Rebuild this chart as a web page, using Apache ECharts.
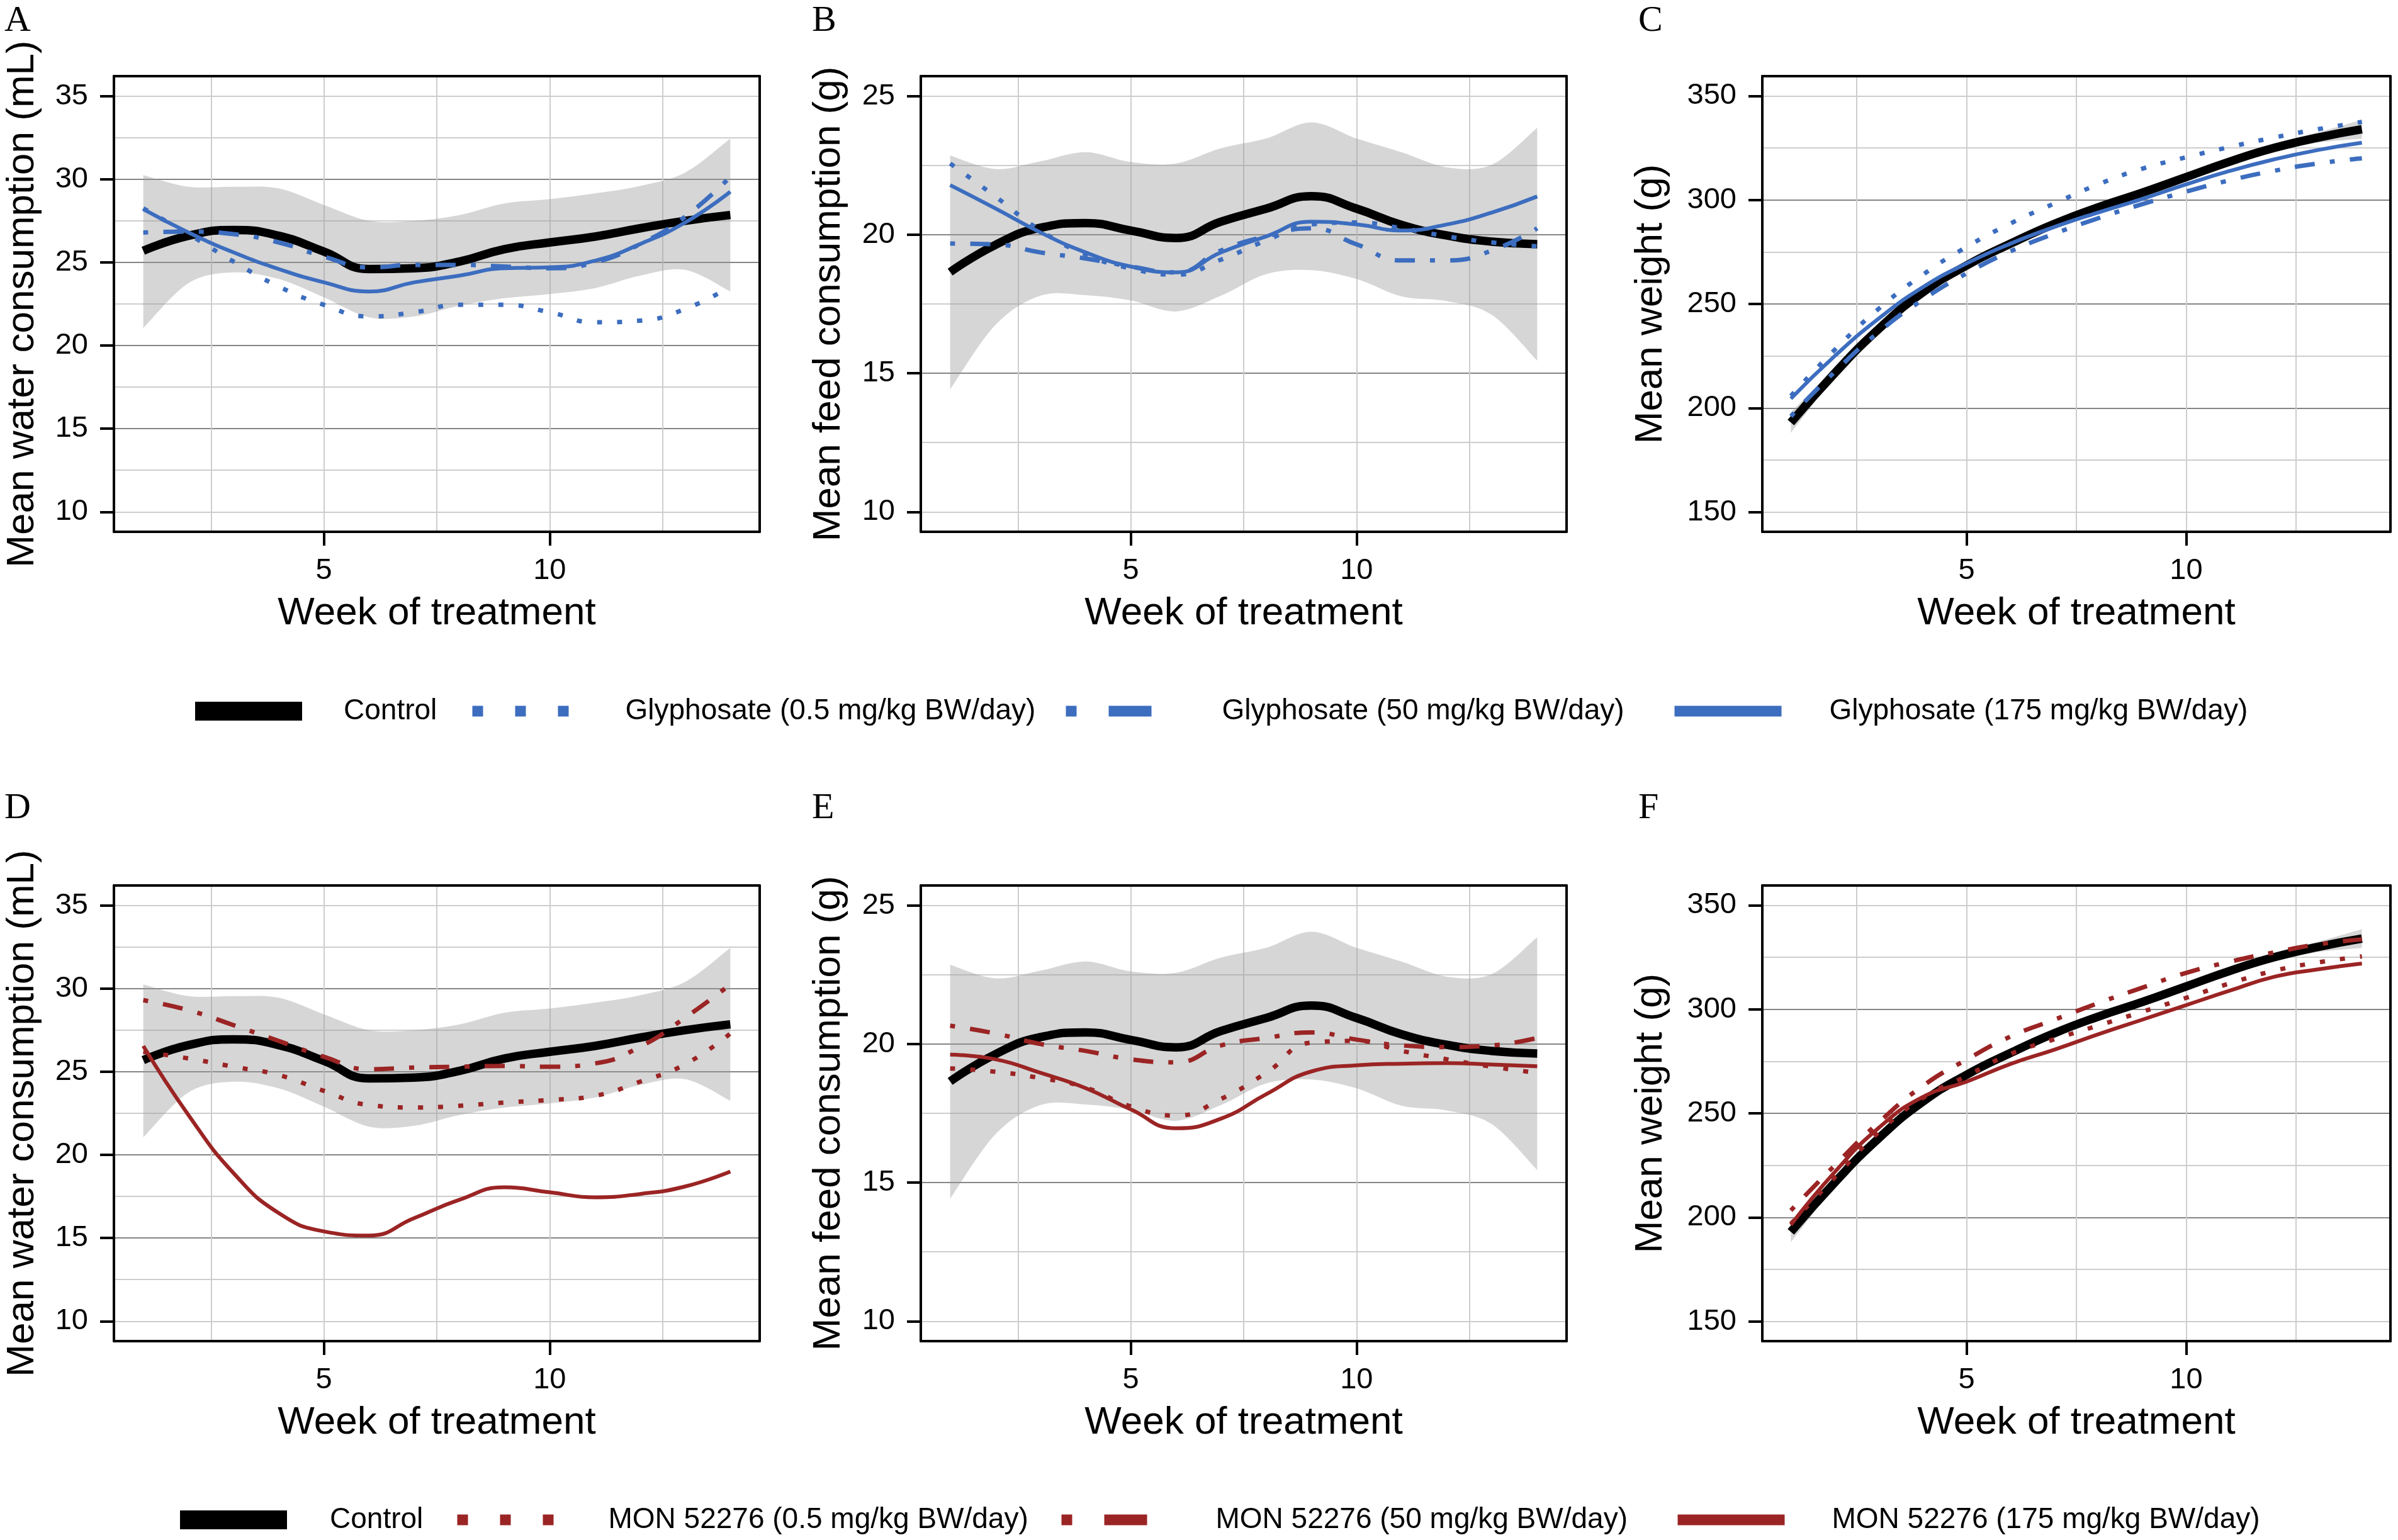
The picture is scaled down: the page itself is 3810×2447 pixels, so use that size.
<!DOCTYPE html>
<html>
<head>
<meta charset="utf-8">
<script src="https://cdn.jsdelivr.net/npm/echarts@6/dist/echarts.min.js"></script>
<style>
html,body{margin:0;padding:0;background:#fff;}
#chart{width:3810px;height:2447px;}
</style>
</head>
<body>
<div id="chart"></div>
<script>
// ---------------- DATA ----------------
const weeks = [1, 2, 3, 4, 5, 6, 7, 8, 9, 10, 11, 12, 13, 14];
const weekTicks = [5, 10];
const waterTicks = [10, 15, 20, 25, 30, 35];
const feedTicks = [10, 15, 20, 25];
const weightTicks = [150, 200, 250, 300, 350];

const controlName = 'Control';
const glyphosateNames = ['Glyphosate (0.5 mg/kg BW/day)', 'Glyphosate (50 mg/kg BW/day)', 'Glyphosate (175 mg/kg BW/day)'];
const monNames = ['MON 52276 (0.5 mg/kg BW/day)', 'MON 52276 (50 mg/kg BW/day)', 'MON 52276 (175 mg/kg BW/day)'];

// Water consumption (mL)
const waterControl = [25.7, 26.6, 26.95, 26.6, 25.65, 24.6, 24.65, 25.05, 25.8, 26.2, 26.55, 27.05, 27.5, 27.85];
const waterCiUpper = [30.25, 29.55, 29.55, 29.45, 28.45, 27.5, 27.5, 27.85, 28.55, 28.8, 29.15, 29.6, 30.4, 32.45];
const waterCiLower = [21.05, 23.75, 24.4, 24.0, 22.9, 21.7, 21.75, 22.4, 22.85, 23.1, 23.45, 24.2, 24.55, 23.25];
const waterGly05 = [28.25, 26.7, 25.05, 23.55, 22.45, 21.75, 22.0, 22.45, 22.45, 22.0, 21.4, 21.5, 22.2, 23.55];
const waterGly50 = [26.8, 26.85, 26.7, 26.2, 25.35, 24.7, 24.85, 24.85, 24.75, 24.65, 25.0, 26.1, 27.75, 30.15];
const waterGly175 = [28.2, 26.8, 25.6, 24.6, 23.8, 23.25, 23.8, 24.2, 24.65, 24.7, 25.1, 26.1, 27.4, 29.25];
const waterMon05 = [26.2, 25.8, 25.3, 24.8, 23.85, 23.0, 22.85, 22.95, 23.15, 23.3, 23.55, 24.4, 25.45, 27.3];
const waterMon50 = [29.3, 28.7, 27.8, 26.85, 25.9, 25.15, 25.25, 25.3, 25.35, 25.3, 25.5, 26.5, 28.25, 30.25];
const waterMon175 = [26.55, 22.4, 18.9, 16.5, 15.4, 15.15, 16.2, 17.3, 18.05, 17.75, 17.45, 17.65, 18.1, 19.0];

// Feed consumption (g)
const feedControl = [18.65, 19.63, 20.25, 20.42, 20.15, 19.88, 20.47, 20.94, 21.39, 20.94, 20.35, 19.97, 19.75, 19.66];
const feedCiUpper = [22.86, 22.37, 22.65, 22.98, 22.62, 22.57, 23.12, 23.47, 24.05, 23.47, 22.97, 22.43, 22.53, 23.86];
const feedCiLower = [14.42, 16.74, 17.8, 17.82, 17.63, 17.23, 17.8, 18.58, 18.72, 18.4, 17.77, 17.6, 17.1, 15.45];
const feedGly05 = [22.57, 21.38, 20.15, 19.29, 18.78, 18.56, 19.1, 19.79, 20.37, 20.44, 20.23, 19.94, 19.72, 19.58];
const feedGly50 = [19.68, 19.65, 19.36, 19.14, 18.85, 18.64, 19.43, 19.94, 20.23, 19.65, 19.07, 19.07, 19.43, 20.23];
const feedGly175 = [21.79, 20.95, 20.08, 19.36, 18.85, 18.64, 19.36, 19.94, 20.47, 20.37, 20.15, 20.37, 20.8, 21.38];
const feedMon05 = [19.12, 19.0, 18.77, 18.43, 17.75, 17.42, 18.02, 18.96, 20.05, 20.11, 19.75, 19.45, 19.18, 18.96];
const feedMon50 = [20.66, 20.38, 20.0, 19.75, 19.45, 19.34, 19.95, 20.22, 20.42, 20.16, 19.95, 19.89, 19.95, 20.22];
const feedMon175 = [19.62, 19.45, 18.96, 18.41, 17.64, 16.96, 17.31, 18.19, 19.01, 19.23, 19.29, 19.31, 19.26, 19.2];

// Body weight (g)
const weightControl = [193, 216.8, 238, 255.5, 268.5, 279, 288.5, 296.5, 303.5, 311, 318.5, 325, 330, 334];
const weightCiUpper = [198, 219, 240, 257, 270, 280.5, 290, 298, 305, 312.5, 320, 327, 332.5, 338.5];
const weightCiLower = [188, 214.5, 236, 254, 267, 277.5, 287, 295, 302, 309.5, 317, 323, 327.5, 329.5];
const weightGly05 = [205.8, 228, 247.7, 264, 277.4, 288.7, 298.3, 307.5, 315, 320.5, 325.5, 330, 334, 337.5];
const weightGly50 = [196, 217.4, 236.5, 252, 264.7, 275.3, 283.8, 291.2, 298, 304, 309.5, 314, 317.5, 320];
const weightGly175 = [204.5, 225, 243, 258, 269.5, 279, 287, 294, 300.5, 307.5, 314, 319.5, 324, 327.5];
const weightMon05 = [196.9, 219.2, 240.9, 257.3, 267.9, 278.5, 285.6, 292.2, 298.8, 305.5, 312.5, 318.5, 322.5, 325.4];
const weightMon50 = [203.3, 225, 245.6, 263.1, 275.8, 286.9, 295, 303, 310.4, 317.5, 322.9, 327.3, 331.2, 333.6];
const weightMon175 = [196.4, 221.8, 243, 257.8, 265.2, 273.7, 280.6, 288, 295, 302, 309, 315.6, 319.2, 322];

// ---------------- STYLE / LAYOUT ----------------
const FONT = '"Liberation Sans", Arial, Helvetica, sans-serif';
const SERIF = '"Liberation Serif", "Times New Roman", serif';
const BLUE = '#3C6DBF';
const RED = '#9B2424';
const BAND = 'rgba(153,153,153,0.4)';
const MAJOR = '#858585';
const MINOR = '#cdcdcd';

const doseStyles = [
  { width: 7, type: [8, 24] },
  { width: 7, type: [8, 24, 32, 24] },
  { width: 6, type: 'solid' }
];
const legendDoseStyles = [
  { width: 17, type: [17, 51] },
  { width: 17, type: [17, 51, 68, 51] },
  { width: 17, type: 'solid' }
];

const colLeft = [181, 1463, 2800];
const colWidth = [1026, 1026, 998];
const rowTop = [121, 1407];
const plotH = 724;
const yNameGap = [114, 115, 146];
const letterX = [7, 1290, 2603];
const letterTop = [5, 1256];

const panels = [
  { letter: 'A', row: 0, col: 0, yTitle: 'Mean water consumption (mL)', yMin: 8.8, yMax: 36.2, step: 5, ticks: waterTicks,
    control: waterControl, lo: waterCiLower, hi: waterCiUpper, doses: [waterGly05, waterGly50, waterGly175], names: glyphosateNames, color: BLUE },
  { letter: 'B', row: 0, col: 1, yTitle: 'Mean feed consumption (g)', yMin: 9.28, yMax: 25.72, step: 5, ticks: feedTicks,
    control: feedControl, lo: feedCiLower, hi: feedCiUpper, doses: [feedGly05, feedGly50, feedGly175], names: glyphosateNames, color: BLUE },
  { letter: 'C', row: 0, col: 2, yTitle: 'Mean weight (g)', yMin: 140.5, yMax: 359.5, step: 50, ticks: weightTicks,
    control: weightControl, lo: weightCiLower, hi: weightCiUpper, doses: [weightGly05, weightGly50, weightGly175], names: glyphosateNames, color: BLUE },
  { letter: 'D', row: 1, col: 0, yTitle: 'Mean water consumption (mL)', yMin: 8.8, yMax: 36.2, step: 5, ticks: waterTicks,
    control: waterControl, lo: waterCiLower, hi: waterCiUpper, doses: [waterMon05, waterMon50, waterMon175], names: monNames, color: RED },
  { letter: 'E', row: 1, col: 1, yTitle: 'Mean feed consumption (g)', yMin: 9.28, yMax: 25.72, step: 5, ticks: feedTicks,
    control: feedControl, lo: feedCiLower, hi: feedCiUpper, doses: [feedMon05, feedMon50, feedMon175], names: monNames, color: RED },
  { letter: 'F', row: 1, col: 2, yTitle: 'Mean weight (g)', yMin: 140.5, yMax: 359.5, step: 50, ticks: weightTicks,
    control: weightControl, lo: weightCiLower, hi: weightCiUpper, doses: [weightMon05, weightMon50, weightMon175], names: monNames, color: RED }
];

function smoothSegs(pts) {
  let s = '';
  const t = 1 / 6;
  for (let i = 0; i < pts.length - 1; i++) {
    const p0 = pts[Math.max(i - 1, 0)], p1 = pts[i], p2 = pts[i + 1], p3 = pts[Math.min(i + 2, pts.length - 1)];
    const c1x = p1[0] + (p2[0] - p0[0]) * t, c1y = p1[1] + (p2[1] - p0[1]) * t;
    const c2x = p2[0] - (p3[0] - p1[0]) * t, c2y = p2[1] - (p3[1] - p1[1]) * t;
    s += ' C ' + c1x + ' ' + c1y + ' ' + c2x + ' ' + c2y + ' ' + p2[0] + ' ' + p2[1];
  }
  return s;
}

function bandRenderItem(params, api) {
  if (params.dataIndexInside !== 0) return null;
  const n = params.dataInsideLength;
  const up = [], lo = [];
  for (let k = 0; k < n; k++) {
    up.push(api.coord([api.value(0, k), api.value(2, k)]));
    lo.push(api.coord([api.value(0, k), api.value(1, k)]));
  }
  lo.reverse();
  const d = 'M ' + up[0][0] + ' ' + up[0][1] + smoothSegs(up) +
    ' L ' + lo[0][0] + ' ' + lo[0][1] + smoothSegs(lo) + ' Z';
  return { type: 'path', shape: { pathData: d }, style: { fill: BAND }, silent: true };
}

const option = {
  backgroundColor: '#ffffff',
  animation: false,
  title: [],
  grid: [],
  xAxis: [],
  yAxis: [],
  legend: [],
  series: []
};

panels.forEach(function (p, i) {
  option.title.push({
    text: p.letter, left: letterX[p.col], top: letterTop[p.row], padding: 0,
    textStyle: { fontFamily: SERIF, fontSize: 58, fontWeight: 'normal', color: '#000' }
  });
  option.grid.push({
    left: colLeft[p.col], top: rowTop[p.row], width: colWidth[p.col], height: plotH,
    show: false, containLabel: false, outerBoundsMode: 'none'
  });
  const lineStyleBorder = { color: '#000', width: 4 };
  // minor x axis (also draws top border)
  option.xAxis.push({
    gridIndex: i, type: 'value', position: 'top', min: 0.35, max: 14.65, minInterval: 2.5, maxInterval: 2.5,
    axisLine: { show: true, onZero: false, lineStyle: lineStyleBorder },
    axisTick: { show: false }, axisLabel: { show: false },
    splitLine: { show: true, showMinLine: false, showMaxLine: false, lineStyle: { color: MINOR, width: 2 } }
  });
  // major x axis
  option.xAxis.push({
    gridIndex: i, type: 'value', position: 'bottom', min: 0.35, max: 14.65, minInterval: 5, maxInterval: 5,
    axisLine: { show: true, onZero: false, lineStyle: lineStyleBorder },
    axisTick: { show: true, inside: false, length: 22, customValues: weekTicks, lineStyle: { color: '#000', width: 4 } },
    axisLabel: { show: true, customValues: weekTicks, margin: 39, fontSize: 47, color: '#000', fontFamily: FONT,
      formatter: function (v) { return weekTicks.indexOf(v) >= 0 ? String(v) : ''; } },
    splitLine: { show: true, showMinLine: false, showMaxLine: false, lineStyle: { color: MAJOR, width: 2 } },
    name: 'Week of treatment', nameLocation: 'middle', nameGap: 99,
    nameTextStyle: { fontSize: 62, color: '#000', fontFamily: FONT }
  });
  // minor y axis (also draws right border)
  option.yAxis.push({
    gridIndex: i, type: 'value', position: 'right', min: p.yMin, max: p.yMax, minInterval: p.step / 2, maxInterval: p.step / 2,
    axisLine: { show: true, onZero: false, lineStyle: lineStyleBorder },
    axisTick: { show: false }, axisLabel: { show: false },
    splitLine: { show: true, showMinLine: false, showMaxLine: false, lineStyle: { color: MINOR, width: 2 } }
  });
  // major y axis
  const ticks = p.ticks;
  option.yAxis.push({
    gridIndex: i, type: 'value', position: 'left', min: p.yMin, max: p.yMax, minInterval: p.step, maxInterval: p.step,
    axisLine: { show: true, onZero: false, lineStyle: lineStyleBorder },
    axisTick: { show: true, inside: false, length: 22, customValues: ticks, lineStyle: { color: '#000', width: 4 } },
    axisLabel: { show: true, customValues: ticks, margin: 41, fontSize: 47, color: '#000', fontFamily: FONT,
      formatter: function (v) { return ticks.indexOf(v) >= 0 ? String(v) : ''; } },
    splitLine: { show: true, showMinLine: false, showMaxLine: false, lineStyle: { color: MAJOR, width: 2 } },
    name: p.yTitle, nameLocation: 'middle', nameGap: yNameGap[p.col],
    nameTextStyle: { fontSize: 62, color: '#000', fontFamily: FONT }
  });

  const xi = 2 * i + 1, yi = 2 * i + 1;
  // confidence band of control
  option.series.push({
    type: 'custom', name: 'band' + i, coordinateSystem: 'cartesian2d', xAxisIndex: xi, yAxisIndex: yi,
    data: weeks.map(function (w, k) { return [w, p.lo[k], p.hi[k]]; }),
    encode: { x: 0, y: [1, 2] }, renderItem: bandRenderItem, silent: true, z: 2, clip: false
  });
  // control line
  option.series.push({
    type: 'line', name: controlName, xAxisIndex: xi, yAxisIndex: yi,
    data: weeks.map(function (w, k) { return [w, p.control[k]]; }),
    smooth: 0.5, symbol: 'none', showSymbol: false, silent: true, z: 3,
    itemStyle: { color: '#000' },
    lineStyle: { color: '#000', width: 13.5, type: 'solid', cap: 'butt', join: 'round' }
  });
  p.doses.forEach(function (arr, d) {
    option.series.push({
      type: 'line', name: p.names[d], xAxisIndex: xi, yAxisIndex: yi,
      data: weeks.map(function (w, k) { return [w, arr[k]]; }),
      smooth: 0.5, symbol: 'none', showSymbol: false, silent: true, z: 3,
      itemStyle: { color: p.color },
      lineStyle: { color: p.color, width: doseStyles[d].width, type: doseStyles[d].type, cap: 'butt', join: 'round' }
    });
  });
});

// legends (one component per key so each can be placed exactly)
const legendRows = [
  { cy: 1136, color: BLUE, names: [controlName].concat(glyphosateNames), xs: [295, 742, 1685, 2652], pads: [61, 68, 73, 71] },
  { cy: 2421, color: RED, names: [controlName].concat(monNames), xs: [271, 718, 1678, 2657], pads: [63, 65, 70, 70] }
];
legendRows.forEach(function (r) {
  r.names.forEach(function (nm, j) {
    const ls = j === 0
      ? { color: '#000', width: 30, type: 'solid', cap: 'butt', opacity: 1 }
      : { color: r.color, width: legendDoseStyles[j - 1].width, type: legendDoseStyles[j - 1].type, cap: 'butt', opacity: 1 };
    option.legend.push({
      show: true, selectedMode: false, orient: 'horizontal',
      left: r.xs[j], top: r.cy - 30, padding: 0, itemGap: 0,
      itemWidth: 170, itemHeight: 60,
      itemStyle: { opacity: 0, color: 'rgba(0,0,0,0)', borderWidth: 0 },
      lineStyle: ls,
      data: [{ name: nm, lineStyle: ls, itemStyle: { opacity: 0, color: 'rgba(0,0,0,0)', borderWidth: 0 } }],
      textStyle: { fontSize: 46, color: '#000', fontFamily: FONT, padding: [0, 0, 0, r.pads[j]] }
    });
  });
});

const chart = echarts.init(document.getElementById('chart'), null, { renderer: 'canvas', width: 3810, height: 2447 });
chart.setOption(option);
</script>
</body>
</html>
